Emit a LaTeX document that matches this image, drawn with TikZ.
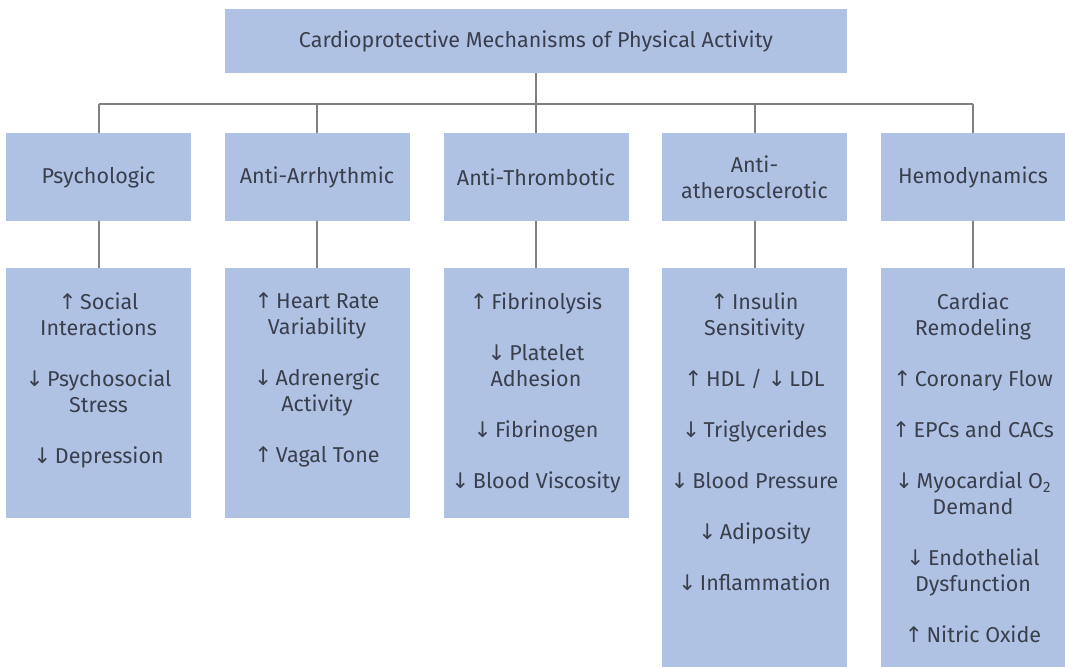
\documentclass[tikz,border=0pt]{standalone}
\usepackage{fontspec}
\setmainfont{Fira Sans}
\newfontfamily\arrowfont{DejaVu Sans}
\usetikzlibrary{positioning}
\definecolor{BoxBlue}{RGB}{176,194,228}
\definecolor{InkGray}{RGB}{58,63,76}
\definecolor{LinkGray}{RGB}{128,128,128}
\newcommand{\upar}{{\arrowfont ↑}\,}
\newcommand{\dnar}{{\arrowfont ↓}\,}

\begin{document}
\begin{tikzpicture}[x=1pt, y=-1pt, font=\fontsize{21.5}{26}\selectfont,
    head/.style={fill=BoxBlue, text=InkGray, align=center, minimum width=622pt,
        minimum height=64pt, inner sep=0pt},
    cat/.style={fill=BoxBlue, text=InkGray, align=center, minimum width=185pt,
        minimum height=88pt, inner sep=0pt},
    panel/.style={fill=BoxBlue, anchor=north, minimum width=185pt, inner sep=0pt},
    items/.style={text=InkGray, align=center, inner sep=0pt},
    link/.style={draw=LinkGray, line width=2pt}]

\useasboundingbox (0,0) rectangle (1065,667);

\node[head] (top) at (536,41) {Cardioprotective Mechanisms of Physical Activity};

\node[cat] (psy) at (98.5,177) {Psychologic};
\node[cat] (arr) at (317,177) {Anti-Arrhythmic};
\node[cat] (thr) at (536,177) {Anti-Thrombotic};
\node[cat] (ath) at (754.5,177) {Anti-\\atherosclerotic};
\node[cat] (hem) at (973,177) {Hemodynamics};

\node[panel, minimum height=250pt] (psyp) at (98.5,268) {};
\node[panel, minimum height=250pt] (arrp) at (317,268) {};
\node[panel, minimum height=250pt] (thrp) at (536,268) {};
\node[panel, minimum height=399pt] (athp) at (754.5,268) {};
\node[panel, minimum height=399pt] (hemp) at (973,268) {};

\node[items, below=25pt of psyp.north] (psyt)
    {\upar Social\\Interactions\\[25pt]\dnar Psychosocial\\Stress\\[25pt]\dnar Depression};
\node[items, below=25pt of arrp.north] (arrt)
    {\upar Heart Rate\\Variability\\[25pt]\dnar Adrenergic\\Activity\\[25pt]\upar Vagal Tone};
\node[items, below=25pt of thrp.north] (thrt)
    {\upar Fibrinolysis\\[25pt]\dnar Platelet\\Adhesion\\[25pt]\dnar Fibrinogen\\[25pt]\dnar Blood Viscosity};
\node[items, below=25pt of athp.north] (atht)
    {\upar Insulin\\Sensitivity\\[25pt]\upar HDL / \dnar LDL\\[25pt]\dnar Triglycerides\\[25pt]%
     \dnar Blood Pressure\\[25pt]\dnar Adiposity\\[25pt]\dnar Inflammation};
\node[items, below=25pt of hemp.north] (hemt)
    {Cardiac\\Remodeling\\[25pt]\upar Coronary Flow\\[25pt]\upar EPCs and CACs\\[25pt]%
     \dnar Myocardial O\textsubscript{2}\\Demand\\[25pt]\dnar Endothelial\\Dysfunction\\[25pt]%
     \upar Nitric Oxide};

% tree connectors
\coordinate (bus) at (536,104);
\draw[link] (top.south) -- (bus);
\draw[link] (psy.north |- bus) -- (hem.north |- bus);
\draw[link] (psy.north |- bus) -- (psy.north);
\draw[link] (arr.north |- bus) -- (arr.north);
\draw[link] (thr.north |- bus) -- (thr.north);
\draw[link] (ath.north |- bus) -- (ath.north);
\draw[link] (hem.north |- bus) -- (hem.north);
\draw[link] (psy.south) -- (psyp.north);
\draw[link] (arr.south) -- (arrp.north);
\draw[link] (thr.south) -- (thrp.north);
\draw[link] (ath.south) -- (athp.north);
\draw[link] (hem.south) -- (hemp.north);

\end{tikzpicture}
\end{document}
